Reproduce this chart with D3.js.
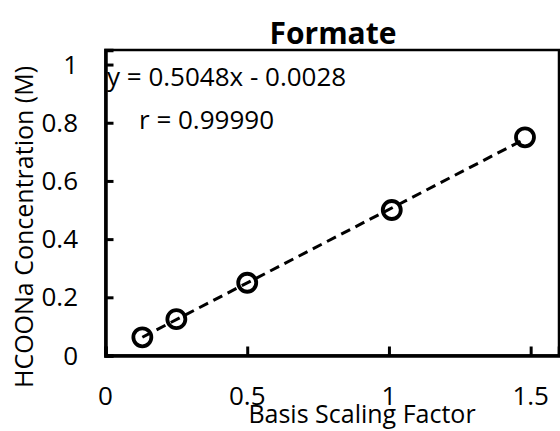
<!DOCTYPE html>
<html>
<head>
<meta charset="utf-8">
<script src="https://cdn.jsdelivr.net/npm/d3@7"></script>
<style>
  body { margin: 0; background: #fff; }
  svg text { font-family: "Open Sans", sans-serif; fill: #000; }
</style>
</head>
<body>
<svg id="chart" width="560" height="431"></svg>
<script>
// data
const scaling = [0.13, 0.25, 0.5, 1.01, 1.48];
const concentration = [0.0625, 0.125, 0.25, 0.5, 0.75];
const xTicks = [0, 0.5, 1, 1.5];
const yTicks = [0, 0.2, 0.4, 0.6, 0.8, 1];
const slope = 0.5048;
const intercept = -0.0028;

const svg = d3.select("#chart");

const x = d3.scaleLinear().domain([0, 1.6]).range([105.5, 559]);
const y = d3.scaleLinear().domain([0, 1.05]).range([355.5, 50]);

// plot frame
svg
  .append("rect")
  .attr("x", x(0))
  .attr("y", y(1.05))
  .attr("width", x(1.6) - x(0))
  .attr("height", y(0) - y(1.05))
  .attr("fill", "none")
  .attr("stroke", "#000")
  .attr("stroke-width", 2.5);

// axes: ticks inside, labels placed by hand below
const xAxis = svg
  .append("g")
  .attr("transform", "translate(0," + y(0) + ")")
  .call(d3.axisTop(x).tickValues(xTicks).tickSize(9).tickFormat(""));
xAxis.select(".domain").attr("stroke-width", 3.5);
xAxis.selectAll(".tick line").attr("stroke-width", 3);

const yAxis = svg
  .append("g")
  .attr("transform", "translate(" + x(0) + ",0)")
  .call(d3.axisRight(y).tickValues(yTicks).tickSize(8).tickFormat(""));
yAxis.select(".domain").attr("stroke-width", 3.5);
yAxis.selectAll(".tick line").attr("stroke-width", 3);

svg
  .append("g")
  .selectAll("text")
  .data(xTicks)
  .enter()
  .append("text")
  .attr("x", (d) => x(d))
  .attr("y", 405)
  .attr("text-anchor", "middle")
  .attr("font-size", 26)
  .text((d) => d);

svg
  .append("g")
  .selectAll("text")
  .data(yTicks)
  .enter()
  .append("text")
  .attr("x", 78)
  .attr("y", (d) => y(d) + 9)
  .attr("text-anchor", "end")
  .attr("font-size", 26)
  .text((d) => d);

// title and axis titles
svg
  .append("text")
  .attr("x", 333)
  .attr("y", 44)
  .attr("text-anchor", "middle")
  .attr("font-size", 30)
  .attr("font-weight", "bold")
  .text("Formate");

svg
  .append("text")
  .attr("x", 362)
  .attr("y", 423)
  .attr("text-anchor", "middle")
  .attr("font-size", 25)
  .text("Basis Scaling Factor");

svg
  .append("text")
  .attr("transform", "translate(33,227) rotate(-90)")
  .attr("text-anchor", "middle")
  .attr("font-size", 25)
  .text("HCOONa Concentration (M)");

// trendline
const xMin = d3.min(scaling);
const xMax = d3.max(scaling);
svg
  .append("line")
  .attr("x1", x(xMin))
  .attr("y1", y(slope * xMin + intercept))
  .attr("x2", x(xMax))
  .attr("y2", y(slope * xMax + intercept))
  .attr("stroke", "#000")
  .attr("stroke-width", 3)
  .attr("stroke-dasharray", "10,6");

// markers
svg
  .append("g")
  .selectAll("circle")
  .data(scaling)
  .enter()
  .append("circle")
  .attr("cx", (d) => x(d))
  .attr("cy", (d, i) => y(concentration[i]))
  .attr("r", 9)
  .attr("fill", "none")
  .attr("stroke", "#000")
  .attr("stroke-width", 3.8);

// regression labels
svg
  .append("text")
  .attr("x", 107)
  .attr("y", 86)
  .attr("font-size", 26)
  .text("y = 0.5048x - 0.0028");

svg
  .append("text")
  .attr("x", 139)
  .attr("y", 129)
  .attr("font-size", 26)
  .text("r = 0.99990");
</script>
</body>
</html>
